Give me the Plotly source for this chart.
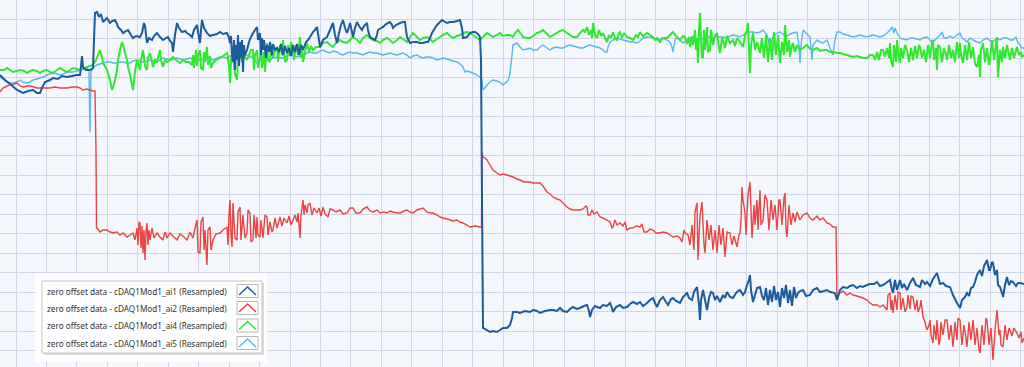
import plotly.graph_objects as go

# time in s, value in V (zero-offset data)
ai1 = [(0.0,0.05),(0.5,0.00),(1.0,-0.04),(1.7,-0.10),(2.3,-0.13),(2.8,-0.11),(3.3,-0.10),(3.7,-0.13),(4.0,-0.13),(4.2,-0.08),(4.5,-0.02),(5.0,0.00),(5.3,0.02),(5.8,0.01),(6.2,0.04),(6.7,0.03),(7.2,0.04),(7.6,0.05),(8.0,0.05),(8.1,0.14),(8.2,0.24),(8.3,0.13),(8.6,0.10),(9.0,0.10),(9.3,0.12),(9.4,0.40),(9.5,0.67),(9.7,0.68),(9.9,0.63),(10.1,0.66),(10.3,0.58),(10.5,0.60),(10.7,0.62),(11.0,0.57),(11.2,0.59),(11.5,0.60),(11.7,0.56),(11.8,0.53),(12.1,0.50),(12.3,0.47),(12.6,0.49),(12.8,0.50),(13.1,0.45),(13.3,0.42),(13.6,0.44),(14.0,0.43),(14.2,0.47),(14.4,0.57),(14.5,0.54),(14.7,0.37),(14.9,0.42),(15.2,0.40),(15.4,0.44),(15.7,0.47),(16.0,0.43),(16.3,0.40),(16.6,0.42),(16.8,0.43),(17.0,0.39),(17.2,0.37),(17.3,0.28),(17.5,0.45),(17.7,0.57),(17.9,0.52),(18.2,0.48),(18.5,0.49),(18.7,0.47),(19.0,0.45),(19.2,0.43),(19.4,0.50),(19.7,0.55),(19.9,0.42),(20.0,0.37),(20.1,0.50),(20.2,0.60),(20.4,0.52),(20.7,0.47),(21.0,0.44),(21.3,0.45),(21.7,0.46),(22.0,0.48),(22.3,0.46),(22.7,0.47),(22.9,0.42),(23.0,0.37),(23.1,0.44),(23.2,0.25),(23.3,0.18),(23.4,0.40),(23.5,0.10),(23.6,0.35),(23.7,0.20),(23.8,0.45),(23.9,0.14),(24.0,0.38),(24.1,0.22),(24.2,0.40),(24.3,0.08),(24.4,0.35),(24.5,0.25),(24.7,0.30),(24.9,0.38),(25.1,0.43),(25.3,0.47),(25.5,0.50),(25.7,0.53),(25.8,0.40),(26.0,0.47),(26.1,0.25),(26.2,0.42),(26.3,0.30),(26.4,0.40),(26.6,0.22),(26.7,0.35),(26.9,0.28),(27.0,0.38),(27.2,0.25),(27.3,0.36),(27.5,0.30),(27.7,0.32),(27.9,0.28),(28.1,0.36),(28.3,0.25),(28.5,0.34),(28.7,0.27),(28.9,0.32),(29.1,0.24),(29.3,0.35),(29.5,0.28),(29.7,0.36),(29.9,0.25),(30.1,0.35),(30.3,0.30),(30.6,0.38),(30.8,0.40),(31.0,0.43),(31.3,0.48),(31.5,0.50),(31.7,0.53),(31.9,0.40),(32.0,0.33),(32.3,0.40),(32.7,0.43),(33.0,0.50),(33.3,0.57),(33.5,0.45),(33.7,0.37),(33.9,0.47),(34.1,0.55),(34.3,0.60),(34.5,0.52),(34.7,0.47),(34.9,0.53),(35.0,0.57),(35.2,0.48),(35.3,0.43),(35.5,0.52),(35.7,0.58),(35.9,0.54),(36.2,0.50),(36.4,0.54),(36.7,0.57),(36.8,0.50),(37.0,0.43),(37.3,0.41),(37.5,0.40),(37.7,0.45),(37.8,0.50),(38.1,0.52),(38.3,0.53),(38.6,0.56),(39.0,0.58),(39.2,0.55),(39.3,0.52),(39.6,0.55),(40.0,0.57),(40.3,0.58),(40.5,0.58),(40.6,0.50),(40.7,0.43),(41.0,0.37),(41.3,0.38),(41.7,0.38),(42.0,0.37),(42.3,0.37),(42.6,0.38),(42.8,0.38),(43.0,0.42),(43.2,0.47),(43.5,0.52),(43.7,0.55),(44.0,0.58),(44.2,0.60),(44.5,0.58),(44.7,0.57),(45.0,0.58),(45.3,0.58),(45.7,0.59),(46.0,0.60),(46.2,0.52),(46.3,0.42),(46.7,0.43),(47.0,0.47),(47.3,0.48),(47.5,0.48),(47.8,0.46),(48.0,0.43),(48.1,0.20),(48.2,-1.20),(48.3,-2.48),(48.7,-2.50),(49.0,-2.52),(49.3,-2.51),(49.7,-2.52),(50.0,-2.50),(50.3,-2.48),(50.7,-2.48),(51.0,-2.45),(51.2,-2.38),(51.3,-2.32),(51.7,-2.32),(52.0,-2.33),(52.5,-2.31),(53.0,-2.32),(53.3,-2.30),(53.7,-2.31),(54.0,-2.33),(54.5,-2.31),(55.0,-2.30),(55.3,-2.30),(55.7,-2.31),(56.0,-2.28),(56.3,-2.31),(56.7,-2.32),(57.0,-2.29),(57.3,-2.27),(57.7,-2.29),(58.0,-2.28),(58.4,-2.26),(58.7,-2.25),(58.9,-2.31),(59.0,-2.37),(59.2,-2.30),(59.5,-2.26),(59.7,-2.27),(60.0,-2.28),(60.3,-2.25),(60.7,-2.26),(61.0,-2.23),(61.2,-2.28),(61.3,-2.32),(61.6,-2.27),(62.0,-2.25),(62.3,-2.28),(62.7,-2.27),(63.0,-2.24),(63.3,-2.22),(63.7,-2.24),(64.0,-2.22),(64.3,-2.26),(64.7,-2.23),(65.0,-2.20),(65.3,-2.18),(65.5,-2.23),(65.7,-2.27),(66.0,-2.20),(66.3,-2.17),(66.6,-2.22),(66.8,-2.25),(67.1,-2.19),(67.3,-2.18),(67.6,-2.21),(68.0,-2.23),(68.3,-2.17),(68.7,-2.13),(68.9,-2.18),(69.2,-2.20),(69.4,-2.12),(69.7,-2.07),(69.9,-2.25),(70.0,-2.40),(70.1,-2.20),(70.3,-2.10),(70.5,-2.20),(70.7,-2.30),(70.9,-2.18),(71.1,-2.12),(71.3,-2.13),(71.5,-2.20),(71.7,-2.16),(72.0,-2.22),(72.3,-2.15),(72.5,-2.18),(72.7,-2.12),(73.0,-2.17),(73.3,-2.18),(73.6,-2.13),(73.8,-2.11),(74.0,-2.10),(74.3,-2.15),(74.5,-2.12),(74.7,-2.05),(74.9,-2.00),(75.0,-1.95),(75.1,-2.10),(75.3,-2.22),(75.5,-2.15),(75.7,-2.08),(76.0,-2.07),(76.2,-2.16),(76.4,-2.20),(76.6,-2.08),(76.8,-2.25),(77.0,-2.10),(77.2,-2.22),(77.4,-2.06),(77.6,-2.20),(77.8,-2.12),(78.0,-2.27),(78.2,-2.08),(78.4,-2.18),(78.6,-2.05),(78.8,-2.23),(79.0,-2.10),(79.2,-2.26),(79.4,-2.07),(79.6,-2.18),(79.8,-2.13),(80.0,-2.11),(80.3,-2.10),(80.6,-2.16),(81.0,-2.15),(81.3,-2.10),(81.7,-2.08),(82.0,-2.12),(82.4,-2.11),(82.7,-2.10),(83.0,-2.12),(83.5,-2.13),(83.7,-2.20),(84.0,-2.10),(84.3,-2.07),(84.7,-2.08),(85.0,-2.06),(85.3,-2.05),(85.7,-2.08),(86.0,-2.06),(86.3,-2.07),(86.7,-2.05),(87.0,-2.04),(87.4,-2.04),(87.7,-2.02),(88.0,-2.06),(88.3,-2.05),(88.6,-2.03),(89.0,-2.00),(89.2,-2.10),(89.3,-2.13),(89.5,-2.00),(89.7,-2.10),(90.0,-2.00),(90.2,-2.08),(90.4,-2.04),(90.7,-2.10),(91.0,-2.03),(91.3,-1.98),(91.6,-2.05),(92.0,-2.07),(92.2,-2.00),(92.5,-2.04),(92.7,-2.02),(93.0,-2.06),(93.3,-1.99),(93.5,-1.96),(93.7,-1.93),(94.0,-2.04),(94.3,-2.03),(94.6,-2.06),(95.0,-2.07),(95.3,-2.15),(95.7,-2.23),(96.0,-2.28),(96.2,-2.20),(96.5,-2.17),(96.7,-2.13),(96.9,-2.16),(97.1,-2.08),(97.3,-2.07),(97.5,-2.02),(97.7,-1.95),(98.0,-1.90),(98.2,-1.96),(98.4,-1.86),(98.7,-1.80),(98.9,-1.90),(99.0,-1.90),(99.2,-1.82),(99.3,-1.83),(99.5,-1.95),(99.7,-1.90),(99.8,-2.05),(100.0,-2.07),(100.2,-2.13),(100.3,-2.17),(100.5,-2.05),(100.7,-1.97),(100.9,-2.05),(101.1,-2.01),(101.3,-2.02),(101.6,-2.06),(101.8,-2.03),(102.0,-2.03),(102.4,-2.04)]

ai2 = [(0.0,-0.12),(0.3,-0.08),(0.7,-0.06),(1.0,-0.05),(1.4,-0.04),(1.7,-0.03),(2.0,-0.06),(2.3,-0.07),(2.7,-0.06),(3.0,-0.06),(3.4,-0.07),(3.7,-0.08),(4.3,-0.08),(5.0,-0.08),(5.5,-0.07),(6.0,-0.08),(6.7,-0.08),(7.2,-0.07),(7.7,-0.07),(8.0,-0.08),(8.3,-0.10),(8.7,-0.09),(9.0,-0.10),(9.3,-0.11),(9.5,-0.11),(9.6,-0.70),(9.65,-1.48),(9.7,-1.48),(10.0,-1.52),(10.3,-1.50),(10.7,-1.50),(11.0,-1.52),(11.3,-1.53),(11.7,-1.52),(12.0,-1.55),(12.3,-1.53),(12.7,-1.57),(13.0,-1.55),(13.3,-1.53),(13.5,-1.60),(13.7,-1.48),(13.8,-1.65),(13.9,-1.42),(14.0,-1.43),(14.1,-1.68),(14.2,-1.46),(14.3,-1.73),(14.4,-1.50),(14.5,-1.80),(14.6,-1.52),(14.7,-1.43),(14.8,-1.65),(14.9,-1.50),(15.0,-1.60),(15.2,-1.48),(15.4,-1.58),(15.7,-1.53),(16.0,-1.57),(16.3,-1.60),(16.5,-1.52),(16.7,-1.58),(17.0,-1.53),(17.3,-1.56),(17.7,-1.60),(18.0,-1.54),(18.3,-1.56),(18.7,-1.60),(19.0,-1.52),(19.3,-1.58),(19.5,-1.48),(19.7,-1.40),(19.8,-1.72),(20.0,-1.73),(20.1,-1.42),(20.3,-1.37),(20.4,-1.70),(20.5,-1.50),(20.7,-1.85),(20.8,-1.50),(21.0,-1.47),(21.1,-1.70),(21.3,-1.60),(21.6,-1.54),(22.0,-1.53),(22.3,-1.50),(22.7,-1.47),(22.8,-1.65),(22.9,-1.35),(23.0,-1.20),(23.1,-1.55),(23.2,-1.67),(23.3,-1.23),(23.5,-1.58),(23.7,-1.60),(23.8,-1.32),(24.0,-1.27),(24.1,-1.60),(24.3,-1.35),(24.5,-1.58),(24.7,-1.53),(24.8,-1.30),(25.0,-1.33),(25.1,-1.62),(25.3,-1.60),(25.4,-1.35),(25.6,-1.58),(25.7,-1.37),(25.8,-1.55),(26.0,-1.57),(26.1,-1.40),(26.3,-1.58),(26.5,-1.35),(26.7,-1.37),(26.8,-1.55),(27.0,-1.42),(27.2,-1.52),(27.3,-1.50),(27.5,-1.38),(27.7,-1.48),(28.0,-1.37),(28.2,-1.46),(28.4,-1.38),(28.7,-1.43),(28.9,-1.36),(29.1,-1.45),(29.3,-1.40),(29.5,-1.35),(29.7,-1.42),(29.8,-1.33),(29.9,-1.45),(30.0,-1.58),(30.1,-1.35),(30.3,-1.20),(30.4,-1.35),(30.5,-1.25),(30.7,-1.33),(30.8,-1.25),(31.0,-1.23),(31.2,-1.35),(31.4,-1.28),(31.7,-1.33),(31.9,-1.28),(32.1,-1.36),(32.3,-1.27),(32.5,-1.34),(32.8,-1.37),(33.0,-1.29),(33.3,-1.30),(33.6,-1.32),(34.0,-1.30),(34.3,-1.34),(34.7,-1.33),(35.0,-1.28),(35.3,-1.28),(35.6,-1.33),(36.0,-1.33),(36.3,-1.29),(36.7,-1.27),(37.0,-1.31),(37.3,-1.32),(37.7,-1.30),(38.0,-1.33),(38.4,-1.32),(38.7,-1.33),(39.0,-1.31),(39.3,-1.32),(39.7,-1.33),(40.0,-1.33),(40.4,-1.31),(40.7,-1.30),(41.0,-1.32),(41.3,-1.33),(41.7,-1.30),(42.0,-1.29),(42.3,-1.28),(42.7,-1.32),(43.0,-1.33),(43.3,-1.33),(43.7,-1.35),(44.0,-1.37),(44.3,-1.38),(44.7,-1.39),(45.0,-1.40),(45.3,-1.41),(45.7,-1.40),(46.0,-1.42),(46.3,-1.43),(46.7,-1.45),(47.0,-1.47),(47.5,-1.46),(48.0,-1.47),(48.15,-1.47),(48.2,-0.73),(48.3,-0.77),(48.5,-0.78),(48.7,-0.80),(49.0,-0.85),(49.3,-0.90),(49.7,-0.93),(50.0,-0.95),(50.3,-0.94),(50.7,-0.95),(51.0,-0.96),(51.3,-0.97),(51.7,-0.99),(52.0,-1.00),(52.4,-1.02),(52.7,-1.02),(53.0,-1.02),(53.3,-1.03),(53.7,-1.03),(54.0,-1.03),(54.3,-1.06),(54.7,-1.12),(55.0,-1.14),(55.3,-1.17),(55.7,-1.19),(56.0,-1.20),(56.3,-1.23),(56.7,-1.27),(57.0,-1.29),(57.3,-1.30),(57.7,-1.30),(58.0,-1.30),(58.3,-1.29),(58.6,-1.26),(58.7,-1.27),(58.8,-1.35),(59.0,-1.35),(59.2,-1.30),(59.4,-1.34),(59.7,-1.32),(60.0,-1.37),(60.3,-1.38),(60.7,-1.40),(61.0,-1.42),(61.2,-1.48),(61.3,-1.47),(61.5,-1.40),(61.7,-1.45),(62.0,-1.43),(62.3,-1.46),(62.5,-1.42),(62.7,-1.50),(63.0,-1.48),(63.3,-1.48),(63.6,-1.46),(64.0,-1.47),(64.2,-1.44),(64.4,-1.52),(64.7,-1.52),(65.0,-1.49),(65.3,-1.50),(65.6,-1.53),(66.0,-1.53),(66.3,-1.52),(66.7,-1.53),(67.0,-1.55),(67.3,-1.57),(67.7,-1.56),(68.0,-1.58),(68.2,-1.62),(68.4,-1.50),(68.5,-1.53),(68.8,-1.55),(69.0,-1.65),(69.2,-1.45),(69.4,-1.70),(69.5,-1.32),(69.7,-1.23),(69.8,-1.80),(70.0,-1.35),(70.2,-1.22),(70.4,-1.65),(70.5,-1.73),(70.7,-1.40),(70.9,-1.60),(71.1,-1.45),(71.3,-1.70),(71.5,-1.50),(71.7,-1.73),(71.9,-1.45),(72.1,-1.65),(72.3,-1.48),(72.5,-1.77),(72.7,-1.52),(73.0,-1.53),(73.2,-1.65),(73.4,-1.56),(73.7,-1.67),(73.9,-1.55),(74.0,-1.53),(74.1,-1.40),(74.2,-1.07),(74.3,-1.20),(74.5,-1.33),(74.6,-1.55),(74.8,-1.15),(75.0,-1.02),(75.1,-1.30),(75.2,-1.58),(75.4,-1.25),(75.5,-1.45),(75.7,-1.20),(75.8,-1.50),(76.0,-1.10),(76.1,-1.45),(76.3,-1.40),(76.5,-1.15),(76.7,-1.20),(76.9,-1.50),(77.1,-1.20),(77.3,-1.40),(77.5,-1.25),(77.7,-1.50),(77.9,-1.20),(78.0,-1.20),(78.2,-1.45),(78.4,-1.18),(78.5,-1.13),(78.6,-1.50),(78.7,-1.57),(78.9,-1.25),(79.1,-1.45),(79.3,-1.33),(79.5,-1.42),(79.7,-1.32),(80.0,-1.40),(80.3,-1.35),(80.7,-1.33),(81.0,-1.38),(81.3,-1.40),(81.7,-1.36),(82.0,-1.40),(82.3,-1.38),(82.7,-1.43),(83.0,-1.44),(83.3,-1.47),(83.6,-1.47),(83.7,-2.20),(83.8,-2.15),(84.0,-2.13),(84.3,-2.11),(84.7,-2.15),(85.0,-2.13),(85.3,-2.15),(85.7,-2.16),(86.0,-2.17),(86.3,-2.18),(86.7,-2.20),(87.0,-2.23),(87.3,-2.25),(87.7,-2.25),(88.0,-2.27),(88.3,-2.25),(88.7,-2.30),(88.8,-2.15),(89.0,-2.13),(89.1,-2.30),(89.2,-2.20),(89.3,-2.33),(89.5,-2.15),(89.7,-2.30),(89.8,-2.12),(90.0,-2.13),(90.1,-2.30),(90.3,-2.18),(90.5,-2.32),(90.7,-2.27),(90.8,-2.15),(91.0,-2.29),(91.1,-2.16),(91.3,-2.17),(91.5,-2.30),(91.7,-2.20),(91.8,-2.32),(92.0,-2.27),(92.1,-2.20),(92.3,-2.37),(92.5,-2.42),(92.7,-2.50),(92.9,-2.45),(93.0,-2.40),(93.1,-2.55),(93.3,-2.63),(93.4,-2.45),(93.6,-2.60),(93.7,-2.40),(93.9,-2.65),(94.0,-2.60),(94.1,-2.42),(94.3,-2.55),(94.5,-2.40),(94.7,-2.40),(94.9,-2.60),(95.1,-2.45),(95.3,-2.67),(95.5,-2.42),(95.7,-2.60),(95.8,-2.38),(96.0,-2.40),(96.2,-2.65),(96.4,-2.45),(96.6,-2.58),(96.7,-2.67),(96.9,-2.42),(97.1,-2.60),(97.3,-2.40),(97.5,-2.65),(97.7,-2.48),(97.9,-2.70),(98.0,-2.73),(98.2,-2.45),(98.4,-2.65),(98.6,-2.38),(98.7,-2.40),(98.9,-2.65),(99.1,-2.48),(99.3,-2.80),(99.5,-2.50),(99.7,-2.30),(99.9,-2.55),(100.0,-2.50),(100.1,-2.65),(100.3,-2.67),(100.5,-2.45),(100.7,-2.60),(100.9,-2.48),(101.0,-2.50),(101.2,-2.56),(101.4,-2.48),(101.7,-2.53),(101.9,-2.58),(102.1,-2.52),(102.2,-2.63),(102.4,-2.58)]

ai4 = [(0.0,0.10),(0.4,0.10),(0.7,0.12),(1.0,0.10),(1.3,0.08),(1.7,0.09),(2.0,0.10),(2.4,0.09),(2.7,0.07),(3.0,0.09),(3.3,0.10),(3.7,0.09),(4.0,0.07),(4.3,0.09),(4.7,0.10),(5.0,0.08),(5.3,0.07),(5.7,0.10),(6.0,0.12),(6.3,0.10),(6.7,0.08),(7.0,0.10),(7.3,0.12),(7.7,0.11),(8.0,0.10),(8.3,0.11),(8.7,0.13),(9.0,0.14),(9.3,0.15),(9.6,0.20),(9.8,0.25),(10.0,0.30),(10.2,0.23),(10.3,0.17),(10.5,0.14),(10.7,0.10),(11.0,0.00),(11.2,-0.10),(11.4,-0.04),(11.5,0.00),(11.7,0.10),(11.8,0.20),(12.0,0.30),(12.2,0.38),(12.4,0.32),(12.5,0.27),(12.7,0.20),(12.8,0.13),(13.0,0.05),(13.2,-0.05),(13.3,-0.10),(13.5,0.08),(13.7,0.20),(13.9,0.13),(14.0,0.10),(14.1,0.20),(14.3,0.30),(14.5,0.14),(14.7,0.10),(14.8,0.22),(15.0,0.27),(15.2,0.18),(15.3,0.13),(15.5,0.20),(15.7,0.18),(15.8,0.22),(16.0,0.30),(16.1,0.20),(16.3,0.13),(16.5,0.20),(16.7,0.18),(17.0,0.20),(17.3,0.23),(17.6,0.20),(18.0,0.17),(18.3,0.20),(18.6,0.18),(18.9,0.18),(19.2,0.15),(19.3,0.25),(19.4,0.12),(19.6,0.30),(19.7,0.14),(19.8,0.25),(20.0,0.30),(20.1,0.12),(20.3,0.10),(20.4,0.28),(20.5,0.18),(20.7,0.33),(20.8,0.15),(21.0,0.24),(21.1,0.12),(21.3,0.17),(21.6,0.20),(22.0,0.22),(22.3,0.24),(22.7,0.27),(22.9,0.15),(23.0,-0.03),(23.1,0.20),(23.3,0.30),(23.4,0.15),(23.5,0.06),(23.7,0.00),(23.8,0.20),(24.0,0.27),(24.2,0.18),(24.4,0.25),(24.7,0.20),(24.9,0.25),(25.1,0.30),(25.3,0.30),(25.4,0.10),(25.5,0.25),(25.7,0.30),(25.8,0.12),(26.0,0.22),(26.1,0.35),(26.2,0.12),(26.4,0.28),(26.5,0.08),(26.7,0.37),(26.8,0.20),(27.0,0.18),(27.1,0.32),(27.3,0.22),(27.5,0.30),(27.7,0.33),(27.8,0.18),(28.0,0.35),(28.2,0.25),(28.3,0.40),(28.5,0.18),(28.7,0.20),(28.8,0.35),(29.0,0.24),(29.1,0.38),(29.3,0.30),(29.4,0.20),(29.6,0.35),(29.8,0.25),(30.0,0.43),(30.1,0.22),(30.2,0.35),(30.3,0.18),(30.5,0.28),(30.7,0.37),(30.9,0.28),(31.1,0.34),(31.3,0.30),(31.6,0.33),(32.0,0.33),(32.3,0.37),(32.7,0.38),(33.0,0.35),(33.3,0.33),(33.6,0.37),(34.0,0.40),(34.3,0.38),(34.7,0.37),(35.0,0.40),(35.3,0.43),(35.7,0.40),(36.0,0.37),(36.3,0.42),(36.7,0.45),(37.0,0.42),(37.3,0.40),(37.7,0.39),(38.0,0.37),(38.3,0.40),(38.7,0.42),(39.0,0.40),(39.3,0.37),(39.7,0.40),(40.0,0.43),(40.3,0.41),(40.7,0.38),(41.0,0.43),(41.3,0.47),(41.7,0.43),(42.0,0.40),(42.3,0.42),(42.7,0.43),(43.0,0.41),(43.3,0.38),(43.7,0.41),(44.0,0.43),(44.3,0.45),(44.7,0.47),(45.0,0.44),(45.3,0.42),(45.7,0.44),(46.0,0.45),(46.3,0.47),(46.7,0.48),(47.0,0.47),(47.3,0.45),(47.7,0.42),(48.0,0.40),(48.3,0.43),(48.7,0.47),(49.0,0.45),(49.3,0.43),(49.7,0.45),(50.0,0.47),(50.3,0.44),(50.7,0.45),(51.0,0.45),(51.3,0.43),(51.5,0.47),(51.8,0.50),(52.1,0.46),(52.3,0.43),(52.7,0.42),(53.0,0.42),(53.3,0.44),(53.7,0.47),(54.0,0.48),(54.3,0.50),(54.7,0.46),(55.0,0.43),(55.3,0.45),(55.7,0.47),(56.0,0.49),(56.3,0.50),(56.7,0.47),(57.0,0.45),(57.3,0.43),(57.7,0.43),(58.0,0.47),(58.3,0.50),(58.5,0.48),(58.7,0.53),(58.9,0.45),(59.1,0.50),(59.2,0.42),(59.3,0.57),(59.5,0.45),(59.7,0.42),(59.9,0.50),(60.1,0.44),(60.3,0.47),(60.5,0.42),(60.7,0.38),(60.9,0.45),(61.1,0.42),(61.3,0.48),(61.5,0.42),(61.7,0.40),(61.9,0.47),(62.0,0.48),(62.2,0.42),(62.4,0.47),(62.7,0.43),(63.0,0.42),(63.3,0.40),(63.6,0.45),(63.8,0.43),(64.0,0.48),(64.3,0.44),(64.7,0.47),(65.0,0.45),(65.3,0.43),(65.5,0.40),(65.7,0.42),(66.0,0.38),(66.3,0.42),(66.7,0.42),(67.0,0.45),(67.3,0.48),(67.6,0.44),(68.0,0.40),(68.3,0.44),(68.5,0.43),(68.7,0.36),(68.9,0.43),(69.0,0.33),(69.2,0.44),(69.3,0.35),(69.5,0.50),(69.6,0.30),(69.7,0.42),(69.8,0.17),(69.9,0.50),(70.0,0.67),(70.1,0.40),(70.2,0.22),(70.3,0.23),(70.4,0.50),(70.5,0.30),(70.7,0.53),(70.8,0.28),(71.0,0.30),(71.1,0.50),(71.3,0.35),(71.5,0.44),(71.7,0.47),(71.9,0.32),(72.0,0.27),(72.2,0.42),(72.3,0.40),(72.5,0.32),(72.7,0.44),(73.0,0.37),(73.3,0.40),(73.5,0.34),(73.7,0.42),(74.0,0.38),(74.3,0.33),(74.5,0.45),(74.7,0.50),(74.8,0.57),(74.9,0.30),(75.0,0.07),(75.1,0.35),(75.3,0.47),(75.5,0.30),(75.7,0.38),(76.0,0.27),(76.2,0.42),(76.4,0.22),(76.6,0.45),(76.8,0.18),(77.0,0.42),(77.2,0.20),(77.4,0.48),(77.6,0.25),(77.8,0.45),(78.0,0.17),(78.2,0.38),(78.4,0.25),(78.5,0.55),(78.7,0.28),(78.9,0.40),(79.0,0.23),(79.2,0.35),(79.3,0.37),(79.5,0.28),(79.7,0.35),(80.0,0.30),(80.3,0.32),(80.7,0.35),(81.0,0.31),(81.3,0.30),(81.7,0.32),(82.0,0.29),(82.4,0.30),(82.7,0.30),(83.0,0.28),(83.3,0.28),(83.7,0.27),(84.0,0.27),(84.3,0.26),(84.7,0.25),(85.0,0.24),(85.3,0.23),(85.7,0.24),(86.0,0.23),(86.3,0.22),(86.7,0.22),(87.0,0.25),(87.3,0.25),(87.5,0.20),(87.7,0.28),(87.9,0.20),(88.1,0.30),(88.3,0.30),(88.5,0.23),(88.7,0.32),(88.9,0.22),(89.0,0.37),(89.1,0.20),(89.3,0.13),(89.4,0.35),(89.6,0.18),(89.7,0.40),(89.9,0.20),(90.0,0.17),(90.1,0.32),(90.3,0.22),(90.5,0.35),(90.7,0.30),(90.9,0.18),(91.1,0.32),(91.3,0.20),(91.5,0.34),(91.7,0.22),(91.9,0.35),(92.0,0.33),(92.2,0.22),(92.4,0.30),(92.6,0.18),(92.8,0.35),(93.0,0.22),(93.2,0.38),(93.3,0.40),(93.4,0.20),(93.6,0.32),(93.7,0.10),(93.8,0.35),(94.0,0.33),(94.2,0.18),(94.4,0.32),(94.6,0.25),(94.7,0.20),(94.9,0.35),(95.1,0.22),(95.3,0.30),(95.5,0.18),(95.7,0.38),(95.9,0.22),(96.0,0.37),(96.1,0.25),(96.3,0.17),(96.5,0.35),(96.7,0.20),(96.9,0.38),(97.1,0.22),(97.3,0.33),(97.5,0.16),(97.7,0.13),(97.9,0.25),(98.0,0.03),(98.1,0.30),(98.3,0.37),(98.5,0.18),(98.7,0.32),(98.9,0.15),(99.0,0.20),(99.2,0.40),(99.4,0.20),(99.6,0.35),(99.7,0.43),(99.8,0.03),(100.0,0.30),(100.2,0.18),(100.3,0.33),(100.5,0.22),(100.7,0.35),(100.9,0.25),(101.0,0.20),(101.2,0.32),(101.4,0.22),(101.7,0.33),(101.9,0.25),(102.1,0.28),(102.2,0.23),(102.4,0.25)]

ai5 = [(0.0,0.03),(0.4,0.00),(0.7,-0.02),(1.0,-0.03),(1.3,-0.03),(1.7,-0.02),(2.0,0.00),(2.3,-0.02),(2.7,-0.03),(3.0,-0.02),(3.3,0.00),(3.7,0.01),(4.0,0.02),(4.3,0.03),(4.7,0.05),(5.0,0.06),(5.3,0.07),(5.7,0.06),(6.0,0.05),(6.3,0.06),(6.7,0.08),(7.0,0.08),(7.3,0.08),(7.7,0.09),(8.0,0.10),(8.3,0.11),(8.7,0.12),(8.9,0.10),(8.95,-0.20),(9.0,-0.52),(9.05,-0.20),(9.1,0.08),(9.2,0.10),(9.4,0.13),(9.7,0.15),(10.0,0.16),(10.3,0.17),(10.7,0.18),(11.0,0.18),(11.3,0.17),(11.7,0.17),(12.0,0.18),(12.3,0.18),(12.7,0.17),(13.0,0.17),(13.3,0.19),(13.7,0.20),(14.0,0.19),(14.3,0.18),(14.7,0.19),(15.0,0.20),(15.3,0.19),(15.7,0.18),(16.0,0.20),(16.3,0.22),(16.7,0.21),(17.0,0.20),(17.3,0.21),(17.7,0.22),(18.0,0.21),(18.3,0.20),(18.7,0.21),(19.0,0.22),(19.3,0.21),(19.7,0.20),(20.0,0.20),(20.3,0.21),(20.7,0.22),(21.0,0.21),(21.3,0.20),(21.7,0.22),(22.0,0.23),(22.3,0.23),(22.7,0.22),(23.0,0.24),(23.3,0.25),(23.7,0.24),(24.0,0.23),(24.3,0.24),(24.7,0.25),(25.0,0.23),(25.3,0.23),(25.5,0.19),(25.7,0.17),(26.0,0.20),(26.3,0.22),(26.7,0.21),(27.0,0.20),(27.3,0.22),(27.7,0.23),(28.0,0.22),(28.3,0.22),(28.7,0.24),(29.0,0.25),(29.3,0.24),(29.7,0.23),(30.0,0.24),(30.3,0.25),(30.7,0.27),(31.0,0.28),(31.3,0.27),(31.7,0.27),(32.0,0.29),(32.3,0.30),(32.7,0.28),(33.0,0.27),(33.3,0.29),(33.7,0.28),(34.0,0.26),(34.3,0.25),(34.7,0.27),(35.0,0.28),(35.3,0.27),(35.7,0.27),(36.0,0.26),(36.3,0.25),(36.7,0.27),(37.0,0.28),(37.3,0.27),(37.7,0.27),(38.0,0.26),(38.3,0.25),(38.7,0.26),(39.0,0.27),(39.3,0.26),(39.7,0.25),(40.0,0.26),(40.3,0.27),(40.7,0.25),(41.0,0.22),(41.3,0.24),(41.7,0.25),(42.0,0.23),(42.3,0.22),(42.7,0.23),(43.0,0.23),(43.3,0.22),(43.7,0.20),(44.0,0.21),(44.3,0.22),(44.7,0.21),(45.0,0.20),(45.3,0.19),(45.7,0.18),(46.0,0.16),(46.3,0.13),(46.5,0.08),(46.7,0.09),(47.0,0.08),(47.3,0.07),(47.7,0.05),(48.0,0.03),(48.2,0.00),(48.3,-0.10),(48.5,-0.08),(48.7,-0.05),(49.0,-0.02),(49.3,0.00),(49.7,-0.01),(50.0,-0.02),(50.3,-0.05),(50.5,-0.03),(50.7,-0.02),(50.9,0.02),(51.0,0.07),(51.2,0.25),(51.3,0.35),(51.5,0.36),(51.7,0.37),(52.0,0.33),(52.3,0.30),(52.7,0.31),(53.0,0.32),(53.3,0.30),(53.7,0.30),(54.0,0.33),(54.3,0.35),(54.7,0.32),(55.0,0.30),(55.3,0.32),(55.7,0.33),(56.0,0.32),(56.3,0.32),(56.7,0.34),(57.0,0.35),(57.3,0.34),(57.7,0.33),(58.0,0.32),(58.3,0.32),(58.7,0.34),(59.0,0.35),(59.3,0.34),(59.7,0.33),(60.0,0.32),(60.3,0.30),(60.5,0.28),(60.7,0.28),(60.8,0.33),(61.0,0.38),(61.3,0.40),(61.7,0.42),(62.0,0.41),(62.3,0.40),(62.7,0.39),(63.0,0.38),(63.3,0.38),(63.7,0.37),(64.0,0.39),(64.3,0.42),(64.7,0.43),(65.0,0.43),(65.3,0.42),(65.7,0.40),(66.0,0.41),(66.3,0.42),(66.7,0.40),(67.0,0.38),(67.2,0.33),(67.3,0.28),(67.5,0.40),(67.7,0.43),(68.0,0.40),(68.3,0.37),(68.7,0.40),(69.0,0.42),(69.3,0.41),(69.7,0.40),(70.0,0.40),(70.3,0.42),(70.7,0.43),(71.0,0.43),(71.3,0.42),(71.7,0.43),(72.0,0.43),(72.3,0.43),(72.7,0.42),(73.0,0.44),(73.3,0.45),(73.7,0.44),(74.0,0.43),(74.3,0.45),(74.7,0.47),(75.0,0.48),(75.3,0.48),(75.7,0.47),(76.0,0.48),(76.3,0.50),(76.7,0.45),(77.0,0.33),(77.2,0.40),(77.3,0.43),(77.7,0.47),(78.0,0.48),(78.3,0.46),(78.7,0.44),(79.0,0.46),(79.3,0.47),(79.7,0.48),(79.9,0.35),(80.0,0.17),(80.1,0.35),(80.3,0.50),(80.7,0.46),(81.0,0.43),(81.2,0.20),(81.3,0.35),(81.7,0.40),(82.0,0.38),(82.3,0.37),(82.7,0.40),(83.0,0.32),(83.3,0.25),(83.5,0.40),(83.7,0.48),(84.0,0.48),(84.3,0.46),(84.7,0.45),(85.0,0.44),(85.3,0.43),(85.7,0.44),(86.0,0.45),(86.3,0.44),(86.7,0.43),(87.0,0.44),(87.3,0.45),(87.7,0.44),(88.0,0.43),(88.3,0.44),(88.7,0.47),(89.0,0.50),(89.2,0.53),(89.4,0.47),(89.5,0.52),(89.7,0.47),(90.0,0.42),(90.3,0.41),(90.7,0.40),(91.0,0.42),(91.3,0.42),(91.7,0.41),(92.0,0.40),(92.3,0.42),(92.7,0.43),(93.0,0.40),(93.3,0.38),(93.7,0.42),(94.0,0.45),(94.2,0.48),(94.4,0.42),(94.7,0.42),(95.0,0.44),(95.3,0.42),(95.7,0.45),(96.0,0.47),(96.2,0.42),(96.5,0.40),(96.7,0.38),(97.0,0.42),(97.3,0.40),(97.7,0.38),(98.0,0.37),(98.3,0.40),(98.7,0.42),(99.0,0.39),(99.3,0.38),(99.7,0.42),(100.0,0.40),(100.3,0.42),(100.7,0.42),(101.0,0.40),(101.3,0.40),(101.6,0.43),(101.8,0.37),(102.0,0.35),(102.2,0.32),(102.4,0.32)]

series_names = [
    "zero offset data - cDAQ1Mod1_ai1 (Resampled)",
    "zero offset data - cDAQ1Mod1_ai2 (Resampled)",
    "zero offset data - cDAQ1Mod1_ai4 (Resampled)",
    "zero offset data - cDAQ1Mod1_ai5 (Resampled)",
]
series_data = [ai1, ai2, ai4, ai5]
series_colors = ["#1b5c9c", "#ea4444", "#2fe82f", "#56b8ec"]
series_widths = [2.0, 1.4, 2.0, 1.4]
draw_order = [3, 2, 1, 0]

W, H = 1024, 367
fig = go.Figure()
for i in draw_order:
    t, v = zip(*series_data[i])
    fig.add_trace(go.Scatter(x=list(t), y=list(v), mode="lines", name=series_names[i],
                             line=dict(color=series_colors[i], width=series_widths[i], simplify=False),
                             showlegend=False, hoverinfo="skip"))

grid = "#d2d5e7"
fig.update_layout(
    width=W, height=H, margin=dict(l=0, r=0, t=0, b=0),
    paper_bgcolor="#f4f7fb", plot_bgcolor="#f4f7fb",
    xaxis=dict(range=[0, 102.4], showgrid=True, gridcolor=grid, gridwidth=1, tick0=1.6, dtick=3.045,
               showticklabels=False, zeroline=False, showline=False, ticks=""),
    yaxis=dict(range=[-2.87, 0.80], showgrid=True, gridcolor=grid, gridwidth=1, tick0=0.607, dtick=0.195,
               showticklabels=False, zeroline=False, showline=False, ticks=""),
)

def px(x):
    return x / W

def py(y):
    return 1 - y / H

shapes = []
# white backdrop behind the legend
shapes.append(dict(type="rect", xref="paper", yref="paper", x0=px(35), x1=px(267), y0=py(362), y1=py(273),
                   fillcolor="white", line=dict(width=0), layer="above"))
# shadow + box
shapes.append(dict(type="rect", xref="paper", yref="paper", x0=px(44), x1=px(264), y0=py(355), y1=py(283),
                   fillcolor="#dcdcdc", line=dict(width=0), layer="above"))
shapes.append(dict(type="rect", xref="paper", yref="paper", x0=px(42), x1=px(262), y0=py(353), y1=py(281),
                   fillcolor="white", line=dict(color="#c4c4c4", width=1), layer="above"))
row_centers = [291, 308, 325.5, 343]
annotations = []
for i, c in enumerate(row_centers):
    shapes.append(dict(type="rect", xref="paper", yref="paper", x0=px(237), x1=px(258), y0=py(c + 6.5), y1=py(c - 6.5),
                       fillcolor="white", line=dict(color="#b8b8b8", width=1), layer="above"))
    path = f"M {px(239)},{py(c + 4)} L {px(247.5)},{py(c - 4)} L {px(256)},{py(c + 4)}"
    shapes.append(dict(type="path", xref="paper", yref="paper", path=path,
                       line=dict(color=series_colors[i], width=1.5), layer="above"))
    annotations.append(dict(xref="paper", yref="paper", x=px(45), y=py(c), xanchor="left", yanchor="middle",
                            text=series_names[i], showarrow=False,
                            font=dict(family="Noto Sans, Open Sans, sans-serif", size=8.2, color="#333333")))

fig.update_layout(shapes=shapes, annotations=annotations)
fig.write_html("out.html")
